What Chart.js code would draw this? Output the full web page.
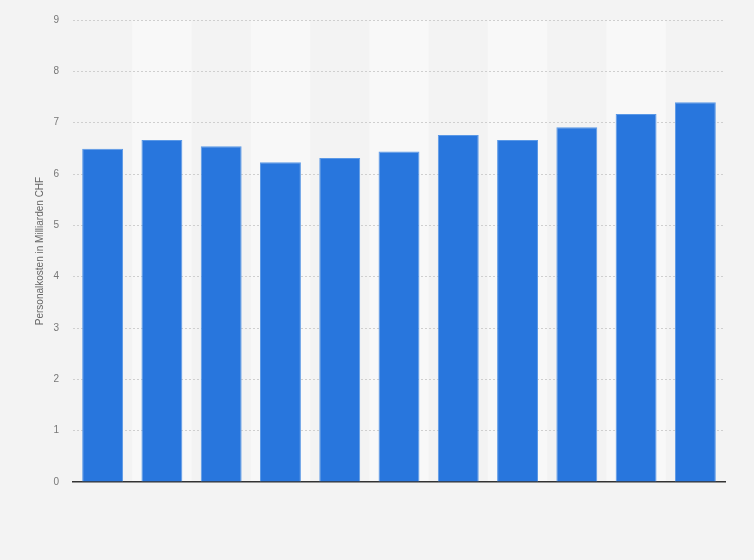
<!DOCTYPE html>
<html>
<head>
<meta charset="utf-8">
<script src="https://cdn.jsdelivr.net/npm/chart.js@4"></script>
<style>
  html, body { margin: 0; padding: 0; background: #f3f3f3; }
  #wrap { width: 754px; height: 560px; position: relative; }
</style>
</head>
<body>
<div id="wrap"><canvas id="c"></canvas></div>
<script>
const categories = ['2012', '2013', '2014', '2015', '2016', '2017', '2018', '2019', '2020', '2021', '2022'];
const personalkosten = [6.49, 6.66, 6.54, 6.23, 6.31, 6.44, 6.76, 6.66, 6.91, 7.17, 7.40];
const yTicks = [0, 1, 2, 3, 4, 5, 6, 7, 8, 9];
const yTitle = 'Personalkosten in Milliarden CHF';

const stripePlugin = {
  id: 'stripes',
  beforeDraw(chart) {
    const { ctx, chartArea, scales } = chart;
    const x = scales.x;
    const n = categories.length;
    const w = (chartArea.right - chartArea.left) / n;
    ctx.save();
    ctx.fillStyle = '#f8f8f8';
    for (let i = 0; i < n; i++) {
      if (i % 2 === 1) {
        const cx = x.getPixelForValue(i);
        ctx.fillRect(cx - w / 2, chartArea.top, w, chartArea.bottom - chartArea.top);
      }
    }
    ctx.restore();
  }
};

new Chart(document.getElementById('c'), {
  type: 'bar',
  data: {
    labels: categories,
    datasets: [{
      data: personalkosten,
      backgroundColor: '#2876dd',
      borderColor: '#5a98e6',
      borderWidth: 1,
      borderSkipped: 'bottom',
      barPercentage: 0.69,
      categoryPercentage: 1.0
    }]
  },
  options: {
    responsive: true,
    maintainAspectRatio: false,
    animation: false,
    devicePixelRatio: 1,
    layout: { padding: { top: 14.3, right: 29, bottom: 70, left: 34 } },
    plugins: { legend: { display: false }, tooltip: { enabled: false } },
    scales: {
      x: {
        ticks: { display: false },
        grid: { display: false },
        border: { display: true, color: '#333333', width: 1.5 }
      },
      y: {
        min: 0,
        max: 9,
        afterBuildTicks(scale) { scale.ticks = yTicks.map(v => ({ value: v })); },
        afterFit(scale) { scale.width = 39; },
        ticks: {
          color: '#777777',
          font: { family: 'Liberation Sans, Arial, sans-serif', size: 10 },
          padding: 14
        },
        grid: {
          color: (c) => (c.tick && c.tick.value === 0) ? 'rgba(0,0,0,0)' : '#cfcfcf',
          lineWidth: 1,
          drawTicks: false
        },
        border: { display: false, dash: [2, 2] },
        title: {
          display: true,
          text: yTitle,
          color: '#666666',
          font: { family: 'Liberation Sans, Arial, sans-serif', size: 10 },
          padding: { top: 0, bottom: 0 }
        }
      }
    }
  },
  plugins: [stripePlugin]
});
</script>
</body>
</html>
